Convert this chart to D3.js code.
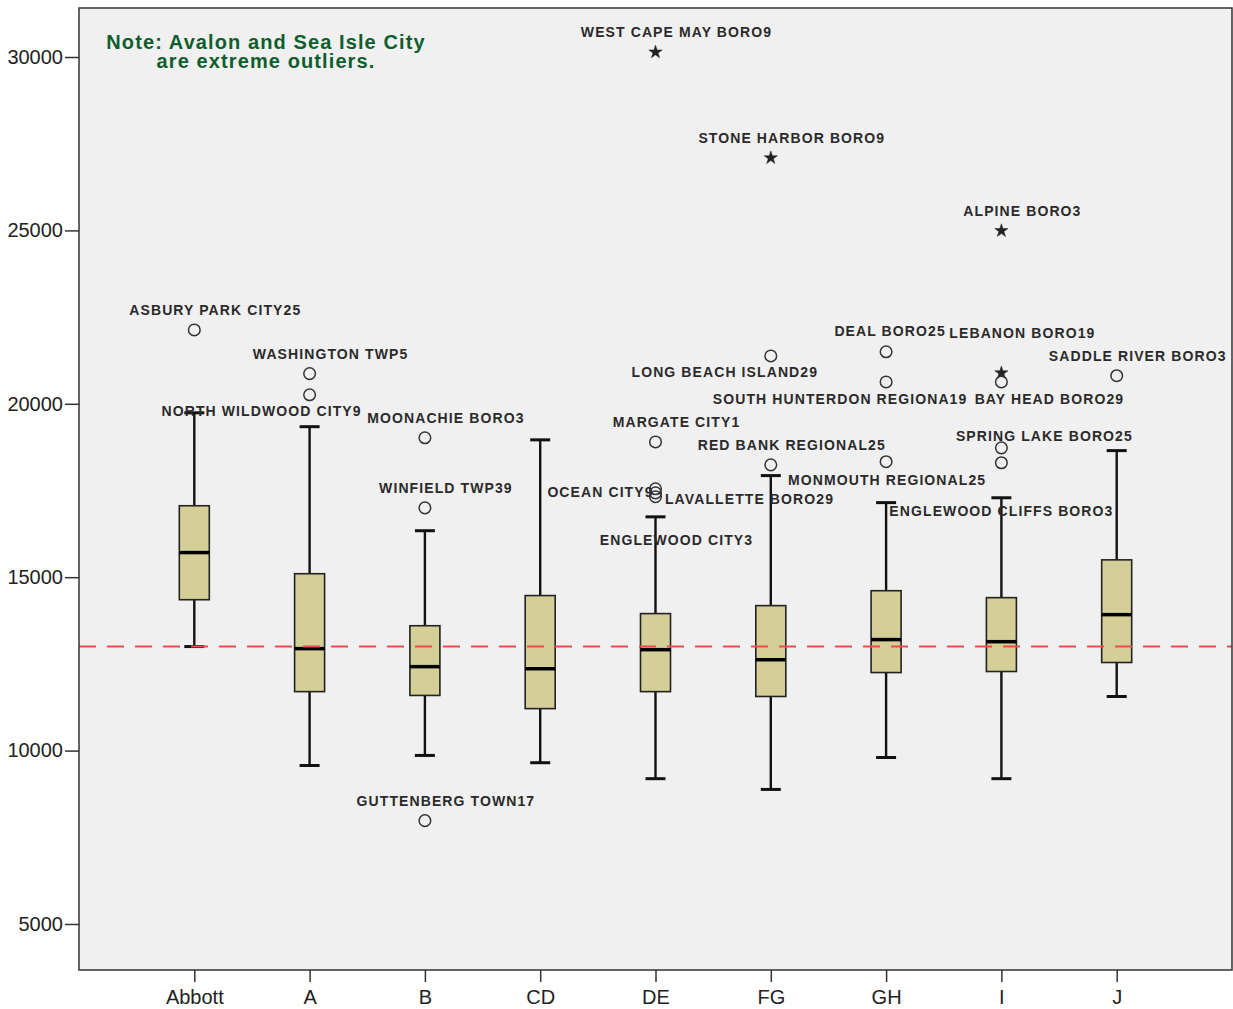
<!DOCTYPE html>
<html lang="en">
<head>
  <meta charset="utf-8">
  <title>Boxplot by group</title>
  <style>
    body { margin: 0; background: #fff; }
    text { font-family: "Liberation Sans", Arial, sans-serif; }
  </style>
</head>
<body>
  <script src="https://d3js.org/d3.v7.min.js"></script>
  <script>
    var width = 1233;
    var height = 1009;
    var margin = { top: 8, right: 1, bottom: 39, left: 79 };

    // box statistics per group
    var groups      = ["Abbott", "A", "B", "CD", "DE", "FG", "GH", "I", "J"];
    var whiskerLow  = [13000, 9570, 9860, 9650, 9190, 8880, 9800, 9190, 11560];
    var q1          = [14350, 11700, 11590, 11210, 11700, 11560, 12250, 12280, 12540];
    var median      = [15710, 12940, 12420, 12360, 12910, 12620, 13200, 13140, 13920];
    var q3          = [17060, 15100, 13600, 14470, 13950, 14180, 14610, 14410, 15500];
    var whiskerHigh = [19740, 19340, 16340, 18960, 16740, 17930, 17150, 17290, 18650];

    // outliers: [group, value, label, kind]  o = outlier, * = extreme
    var outliers = [
      ["Abbott", 22130, "ASBURY PARK CITY25", "o"],
      ["A", 20870, "WASHINGTON TWP5", "o"],
      ["A", 20260, "NORTH WILDWOOD CITY9", "o"],
      ["B", 19020, "MOONACHIE BORO3", "o"],
      ["B", 17000, "WINFIELD TWP39", "o"],
      ["B", 7980, "GUTTENBERG TOWN17", "o"],
      ["DE", 30140, "WEST CAPE MAY BORO9", "*"],
      ["DE", 18900, "MARGATE CITY1", "o"],
      ["DE", 17550, "OCEAN CITY9", "o"],
      ["DE", 17430, "ENGLEWOOD CITY3", "o"],
      ["DE", 17320, "LAVALLETTE BORO29", "o"],
      ["FG", 27090, "STONE HARBOR BORO9", "*"],
      ["FG", 21380, "LONG BEACH ISLAND29", "o"],
      ["FG", 18240, "RED BANK REGIONAL25", "o"],
      ["GH", 21500, "DEAL BORO25", "o"],
      ["GH", 20630, "SOUTH HUNTERDON REGIONA19", "o"],
      ["GH", 18330, "MONMOUTH REGIONAL25", "o"],
      ["I", 24990, "ALPINE BORO3", "*"],
      ["I", 20890, "LEBANON BORO19", "*"],
      ["I", 20630, "BAY HEAD BORO29", "o"],
      ["I", 18730, "SPRING LAKE BORO25", "o"],
      ["I", 18300, "ENGLEWOOD CLIFFS BORO3", "o"],
      ["J", 20810, "SADDLE RIVER BORO3", "o"]
    ];

    var yTicks = [5000, 10000, 15000, 20000, 25000, 30000];
    var refValue = 13000;
    var noteLines = ["Note: Avalon and Sea Isle City", "are extreme outliers."];

    // label placement relative to the point (default is above, a bit right)
    var labelOffset = {
      "NORTH WILDWOOD CITY9": [-48, 16],
      "OCEAN CITY9": [-55, 3],
      "LAVALLETTE BORO29": [94, 2],
      "ENGLEWOOD CITY3": [21, 47],
      "LONG BEACH ISLAND29": [-46, 16],
      "DEAL BORO25": [4, -21],
      "SOUTH HUNTERDON REGIONA19": [-46, 17],
      "MONMOUTH REGIONAL25": [1, 18],
      "LEBANON BORO19": [21, -40],
      "BAY HEAD BORO29": [48, 17],
      "SPRING LAKE BORO25": [43, -12],
      "ENGLEWOOD CLIFFS BORO3": [0, 48]
    };

    var svg = d3.select("body").append("svg")
                .attr("width", width)
                .attr("height", height);

    var x = d3.scalePoint()
              .domain(groups)
              .range([margin.left, width - margin.right])
              .padding(1);

    var y = d3.scaleLinear()
              .domain([3673, 31413])
              .range([height - margin.bottom, margin.top]);

    // plot background
    svg.append("rect")
       .attr("x", margin.left)
       .attr("y", margin.top)
       .attr("width", width - margin.left - margin.right)
       .attr("height", height - margin.top - margin.bottom)
       .attr("fill", "#f0f0f0");

    // axes
    var yAxis = svg.append("g")
                   .attr("transform", "translate(" + margin.left + ",0)")
                   .call(d3.axisLeft(y).tickValues(yTicks).tickSize(14).tickPadding(2).tickFormat(d3.format("d")));
    yAxis.select(".domain").remove();
    yAxis.selectAll("line").attr("stroke", "#333").attr("stroke-width", 1.5);
    yAxis.selectAll("text").attr("font-size", 20).attr("fill", "#222")
         .style("font-family", "'Liberation Sans', Arial, sans-serif");

    var xAxis = svg.append("g")
                   .attr("transform", "translate(0," + (height - margin.bottom) + ")")
                   .call(d3.axisBottom(x).tickSize(12).tickPadding(8));
    xAxis.select(".domain").remove();
    xAxis.selectAll("line").attr("stroke", "#333").attr("stroke-width", 1.5);
    xAxis.selectAll("text").attr("font-size", 20).attr("fill", "#222")
         .style("font-family", "'Liberation Sans', Arial, sans-serif");

    // boxes
    var box = svg.append("g")
                 .selectAll("g")
                 .data(groups)
                 .enter().append("g");

    var boxWidth = 30;
    var capWidth = 20;

    box.append("line")
       .attr("x1", function(d) { return x(d); })
       .attr("x2", function(d) { return x(d); })
       .attr("y1", function(d, i) { return y(whiskerLow[i]); })
       .attr("y2", function(d, i) { return y(whiskerHigh[i]); })
       .attr("stroke", "#111")
       .attr("stroke-width", 2.4);

    [whiskerLow, whiskerHigh].forEach(function(arr) {
      box.append("line")
         .attr("x1", function(d) { return x(d) - capWidth / 2; })
         .attr("x2", function(d) { return x(d) + capWidth / 2; })
         .attr("y1", function(d, i) { return y(arr[i]); })
         .attr("y2", function(d, i) { return y(arr[i]); })
         .attr("stroke", "#111")
         .attr("stroke-width", 3);
    });

    box.append("rect")
       .attr("x", function(d) { return x(d) - boxWidth / 2; })
       .attr("y", function(d, i) { return y(q3[i]); })
       .attr("width", boxWidth)
       .attr("height", function(d, i) { return y(q1[i]) - y(q3[i]); })
       .attr("fill", "#d3cf96")
       .attr("stroke", "#222")
       .attr("stroke-width", 1.6);

    box.append("line")
       .attr("x1", function(d) { return x(d) - boxWidth / 2; })
       .attr("x2", function(d) { return x(d) + boxWidth / 2; })
       .attr("y1", function(d, i) { return y(median[i]); })
       .attr("y2", function(d, i) { return y(median[i]); })
       .attr("stroke", "#000")
       .attr("stroke-width", 3.5);

    // reference line
    svg.append("line")
       .attr("x1", margin.left)
       .attr("x2", width - margin.right)
       .attr("y1", y(refValue))
       .attr("y2", y(refValue))
       .attr("stroke", "#ef4b4b")
       .attr("stroke-width", 2)
       .attr("stroke-dasharray", "17,11");

    // outlier marks
    var star = d3.symbol().type(d3.symbolStar).size(55);
    var pts = svg.append("g");

    outliers.forEach(function(o) {
      var px = x(o[0]);
      var py = y(o[1]);
      if (o[3] == "*") {
        pts.append("path")
           .attr("d", star)
           .attr("transform", "translate(" + px + "," + py + ")")
           .attr("fill", "#222")
           .attr("stroke", "#222")
           .attr("stroke-width", 0.5);
      } else {
        pts.append("circle")
           .attr("cx", px)
           .attr("cy", py)
           .attr("r", 5.8)
           .attr("fill", "none")
           .attr("stroke", "#333")
           .attr("stroke-width", 1.5);
      }
      var off = labelOffset[o[2]] || [21, -20];
      pts.append("text")
         .text(o[2])
         .attr("x", px + off[0])
         .attr("y", py + off[1])
         .attr("dy", "0.36em")
         .attr("text-anchor", "middle")
         .attr("font-size", 14)
         .attr("font-weight", "bold")
         .attr("letter-spacing", 1.1)
         .attr("fill", "#2a2a2a");
    });

    // note
    svg.append("g").selectAll("text")
       .data(noteLines)
       .enter().append("text")
       .text(function(d) { return d; })
       .attr("x", 266)
       .attr("y", function(d, i) { return 49 + i * 19; })
       .attr("text-anchor", "middle")
       .attr("font-size", 20)
       .attr("font-weight", "bold")
       .attr("letter-spacing", 1.1)
       .attr("fill", "#0e5e2d");

    // frame
    svg.append("rect")
       .attr("x", margin.left)
       .attr("y", margin.top)
       .attr("width", width - margin.left - margin.right)
       .attr("height", height - margin.top - margin.bottom)
       .attr("fill", "none")
       .attr("stroke", "#333")
       .attr("stroke-width", 1.5);
  </script>
</body>
</html>
